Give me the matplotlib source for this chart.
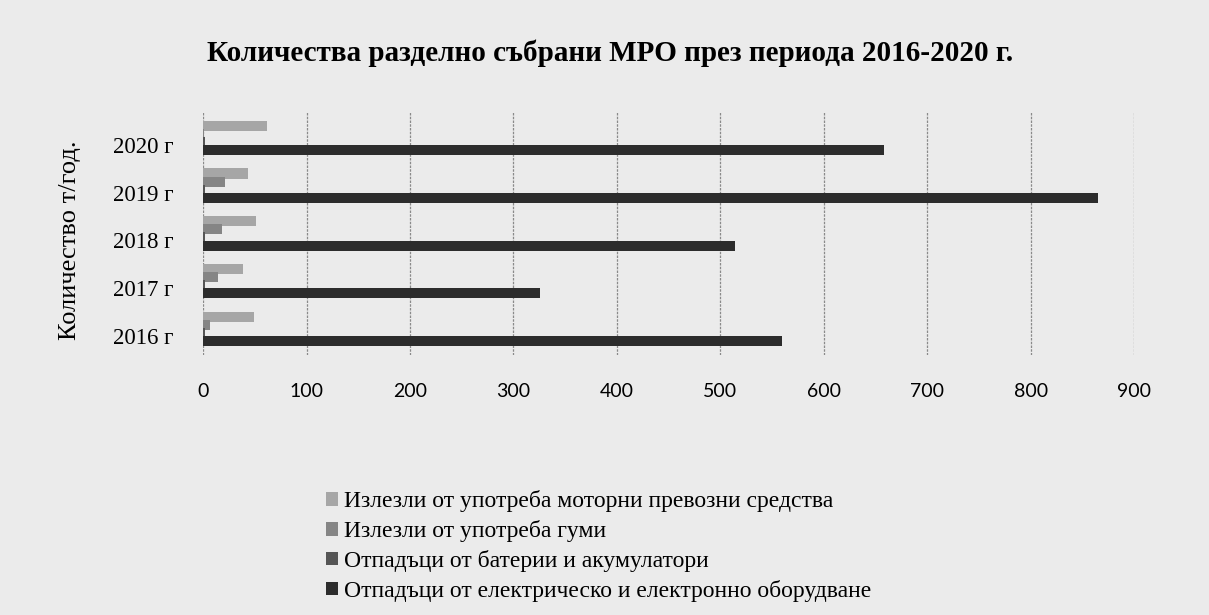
import matplotlib
matplotlib.use("Agg")
import matplotlib.pyplot as plt
import numpy as np

years = ["2016 г", "2017 г", "2018 г", "2019 г", "2020 г"]
series_names = [
    "Излезли от употреба моторни превозни средства",
    "Излезли от употреба гуми",
    "Отпадъци от батерии и акумулатори",
    "Отпадъци от електрическо и електронно оборудване",
]
motor_vehicles = [49, 39, 51, 43, 62]
tyres = [7, 14, 18, 21, 1]
batteries = [1.5, 1.5, 1.5, 1.5, 1.5]
electronics = [560, 326, 514, 865, 658]

BG = "#ebebeb"
colors = ["#a6a6a6", "#858585", "#555555", "#2c2c2c"]
SERIF = "Liberation Serif"
SANS = "Lato"

fig = plt.figure(figsize=(12.09, 6.15), dpi=100, facecolor=BG)
ax = fig.add_axes([0.168, 0.423, 0.770, 0.395])
ax.set_facecolor("none")

y = np.arange(len(years))
# bars sit a little above the tick label centre, as in the scanned original
offsets = [0.40, 0.23, 0.06, -0.11]
data = [motor_vehicles, tyres, batteries, electronics]
for vals, off, col, name in zip(data, offsets, colors, series_names):
    ax.barh(y + off, vals, height=0.21, color=col, label=name, zorder=3)

ax.set_xlim(0, 900)
ax.set_ylim(-0.40, 4.69)
ax.set_xticks(np.arange(0, 901, 100))
ax.set_yticks(y)
ax.set_yticklabels(years, fontfamily=SERIF, fontsize=16.5)
for lbl in ax.get_xticklabels():
    lbl.set_fontfamily(SANS)
    lbl.set_fontsize(14)
ax.tick_params(axis="x", length=0, pad=20)
ax.tick_params(axis="y", length=0, pad=21)
ax.grid(axis="x", color="#8a8a8a", lw=0.9, ls=(0, (2, 1)), zorder=0)
for s in ax.spines.values():
    s.set_visible(False)

ax.set_ylabel("Количество т/год.", fontfamily=SERIF, fontsize=19)
ax.yaxis.set_label_coords(-0.131, 0.47)

fig.text(0.505, 0.913, "Количества разделно събрани МРО през периода 2016-2020 г.",
         ha="center", va="center", fontfamily=SERIF, fontsize=21, fontweight="bold")

handles, labels = ax.get_legend_handles_labels()
fig.legend(handles, labels, loc="upper left", bbox_to_anchor=(0.262, 0.218),
           frameon=False, prop={"family": SERIF, "size": 17},
           handlelength=0.5, handleheight=0.5, handletextpad=0.25,
           labelspacing=0.33, borderaxespad=0)

fig.savefig("out.png", dpi=100, facecolor=BG)
